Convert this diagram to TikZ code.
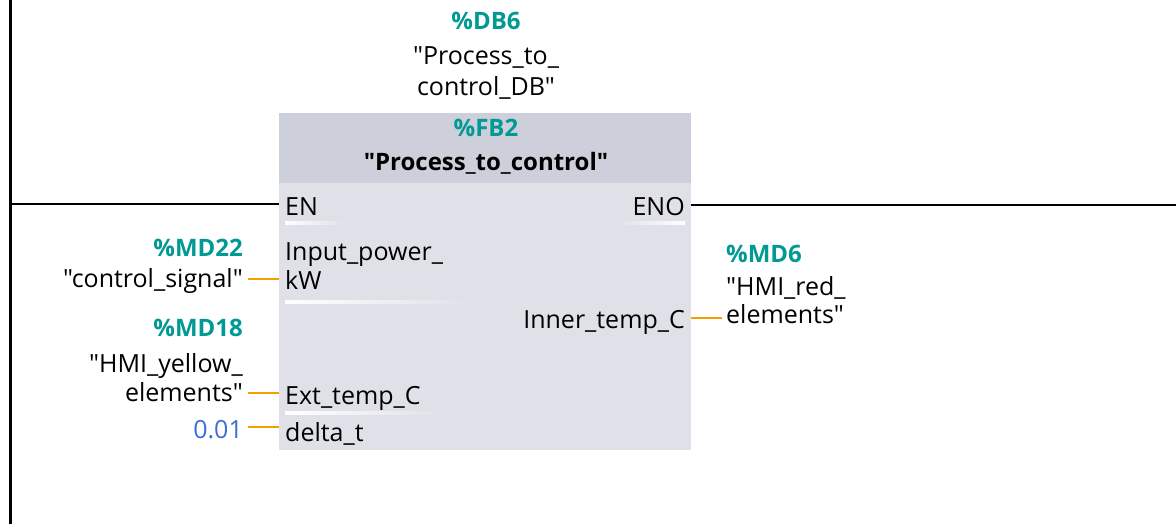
\documentclass[tikz,border=0pt]{standalone}
\usepackage{fontspec}
\setmainfont{Open Sans}[Ligatures=TeXOff]
\definecolor{plcteal}{RGB}{0,153,148}
\definecolor{plcblue}{RGB}{60,110,215}
\definecolor{plcorange}{RGB}{245,160,0}
\definecolor{headgray}{RGB}{205,207,219}
\definecolor{bodygray}{RGB}{224,225,232}
\tikzset{
  txt/.style={inner sep=0pt, font=\fontsize{25}{29}\selectfont},
  addr/.style={txt, font=\fontsize{24}{29}\selectfont\bfseries, text=plcteal},
  wire/.style={plcorange, line width=2.5pt},
  power/.style={black, line width=2.8pt},
}
\begin{document}
\begin{tikzpicture}[x=1pt,y=-1pt]
\useasboundingbox (0,0) rectangle (1176,524);
\fill[white] (0,0) rectangle (1176,524);
% block
\node[fill=bodygray, minimum width=412pt, minimum height=337pt, inner sep=0pt, anchor=north west] (body) at (279,113) {};
\node[fill=headgray, minimum width=412pt, minimum height=70pt, inner sep=0pt, anchor=north west] (head) at (279,113) {};
% rail and power lines
\coordinate (railtop) at (10,0);
\coordinate (railbot) at (10,524);
\coordinate (railen) at (10,204);
\coordinate (enpin) at (279,204);
\coordinate (enopin) at (691,205);
\coordinate (rightend) at (1176,205);
\draw[black, line width=3pt] (railtop) -- (railbot);
\draw[power] (railen) -- (enpin);
\draw[power] (enopin) -- (rightend);
% instance labels
\node[addr, anchor=base] (db) at (486,30) {\%DB6};
\node[txt, anchor=base] (dbn1) at (486,65) {"Process\_to\_};
\node[txt, anchor=base] (dbn2) at (486,96) {control\_DB"};
\node[addr, anchor=base] (fb) at (486,137) {\%FB2};
\node[txt, anchor=base, font=\fontsize{24}{29}\selectfont\bfseries] (fbn) at (486,171) {"Process\_to\_control"};
% pin bars
\shade[left color=white, right color=bodygray] (285,221) rectangle (345,224);
\shade[left color=bodygray, right color=white] (618,221) rectangle (685,224);
\shade[left color=white, right color=bodygray] (285,300) rectangle (470,303);
\shade[left color=white, right color=bodygray] (285,411) rectangle (445,414);
% pins
\node[txt, anchor=base west] (en) at (285,215) {EN};
\node[txt, anchor=base east] (eno) at (685,215) {ENO};
\node[txt, anchor=base west] (ip1) at (285,260) {Input\_power\_};
\node[txt, anchor=base west] (ip2) at (285,289) {kW};
\node[txt, anchor=base west] (ext) at (285,404) {Ext\_temp\_C};
\node[txt, anchor=base west] (dt) at (285,441) {delta\_t};
\node[txt, anchor=base east] (inner) at (685,328) {Inner\_temp\_C};
% actual parameters
\node[addr, anchor=base east] (md22) at (243,256) {\%MD22};
\node[txt, anchor=base east] (cs) at (243,287) {"control\_signal"};
\node[addr, anchor=base east] (md18) at (243,336) {\%MD18};
\node[txt, anchor=base east] (hy1) at (243,372) {"HMI\_yellow\_};
\node[txt, anchor=base east] (hy2) at (243,401) {elements"};
\node[txt, anchor=base east, text=plcblue] (dv) at (243,438) {0.01};
\node[addr, anchor=base west] (md6) at (726,262) {\%MD6};
\node[txt, anchor=base west] (hr1) at (726,295) {"HMI\_red\_};
\node[txt, anchor=base west] (hr2) at (726,323) {elements"};
% wires
\coordinate (csend) at (248,279);
\coordinate (ipin) at (279,279);
\coordinate (hyend) at (248,393);
\coordinate (extin) at (279,393);
\coordinate (dvend) at (248,427);
\coordinate (dtin) at (279,427);
\coordinate (innerout) at (691,318);
\coordinate (hrend) at (722,318);
\draw[wire] (csend) -- (ipin);
\draw[wire] (hyend) -- (extin);
\draw[wire] (dvend) -- (dtin);
\draw[wire] (innerout) -- (hrend);
\end{tikzpicture}
\end{document}
